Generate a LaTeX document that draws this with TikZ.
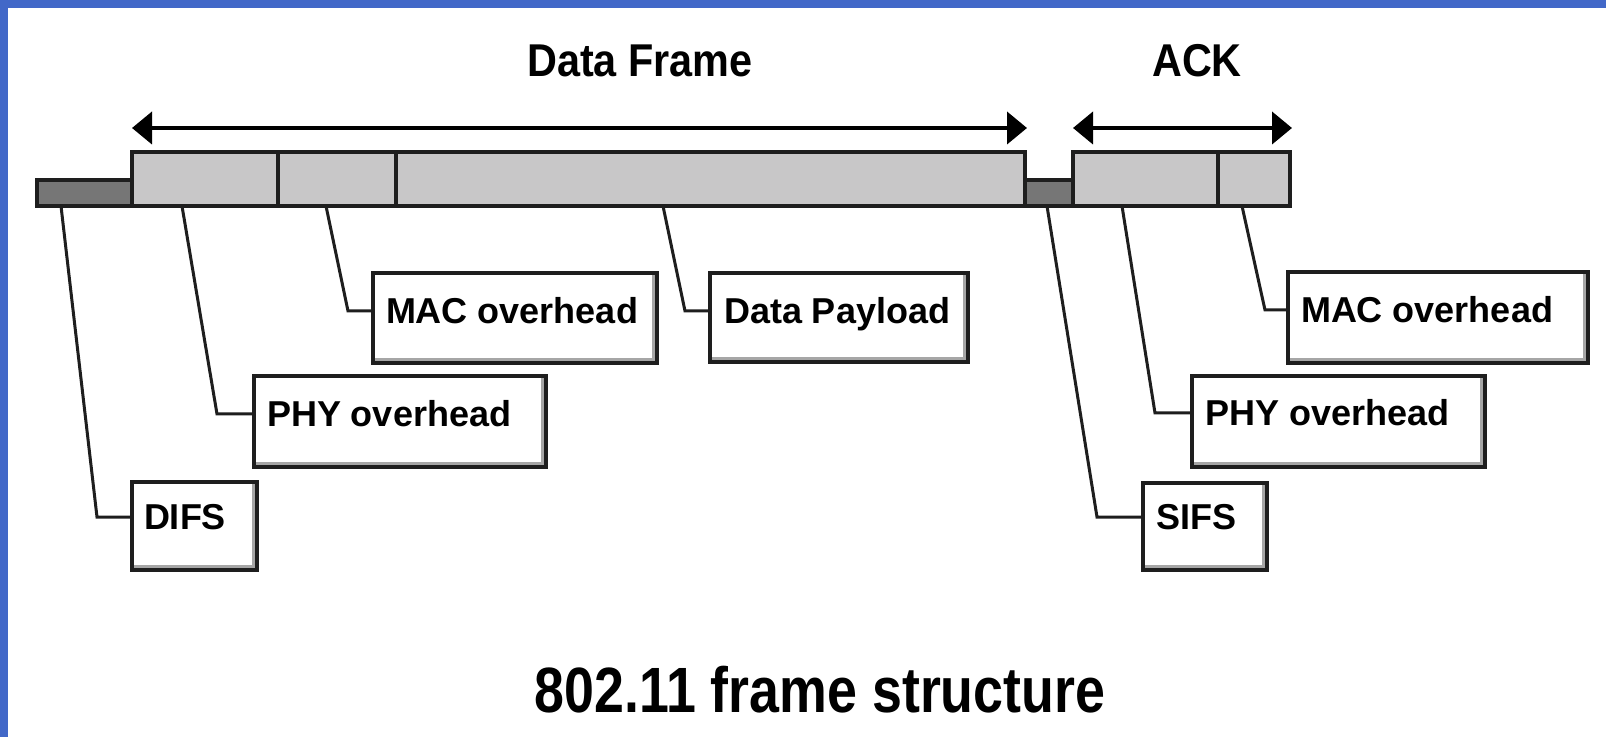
\documentclass[tikz,border=0pt]{standalone}
\usepackage{graphicx}
\usepackage{fontspec}
\setmainfont{Liberation Sans}
\usetikzlibrary{arrows.meta}
\definecolor{bgblue}{RGB}{66,104,200}
\definecolor{segLight}{RGB}{200,199,200}
\definecolor{segDark}{RGB}{118,118,118}
\definecolor{inkc}{RGB}{30,30,30}
\begin{document}
\begin{tikzpicture}[x=0.5pt,y=-0.5pt,
  lightseg/.style={draw=inkc, line width=2pt, fill=segLight, minimum height=27pt, inner sep=0pt, outer sep=0pt, anchor=north west},
  darkseg/.style={draw=inkc, line width=2pt, fill=segDark, minimum height=13pt, inner sep=0pt, outer sep=0pt, anchor=north west},
  lbox/.style={draw=inkc, line width=2pt, fill=white, inner sep=0pt, outer sep=0pt, anchor=north west,
    path picture={\draw[line width=5pt, draw=black!35] (path picture bounding box.south west) -- (path picture bounding box.south east) -- (path picture bounding box.north east);}},
  ltext/.style={anchor=west, inner sep=0pt, outer sep=0pt, text height=12.9pt, text depth=0pt, font=\fontsize{18pt}{20pt}\selectfont\bfseries},
  leader/.style={draw=inkc, line width=1.5pt},
  dimline/.style={draw=black, line width=2pt, {Triangle[length=10pt,width=16pt]}-{Triangle[length=10pt,width=16pt]}},
  ttl/.style={inner sep=0pt, font=\fontsize{23pt}{25pt}\selectfont\bfseries}
]
\useasboundingbox (0,0) rectangle (1606,737);
\fill[white] (0,0) rectangle (1606,737);
\fill[bgblue] (0,0) rectangle (1606,8);
\fill[bgblue] (0,0) rectangle (8,737);

% titles
\node[ttl] (dftitle) at (640,61) {\scalebox{0.9}[1]{Data Frame}};
\node[ttl] (acktitle) at (1197,61) {\scalebox{0.9}[1]{ACK}};
\node[inner sep=0pt, font=\fontsize{32pt}{34pt}\selectfont\bfseries] (maintitle) at (820,690) {\scalebox{0.84}[1]{802.11 frame structure}};

% dimension arrows
\coordinate (dfL) at (132,128);
\coordinate (dfR) at (1027,128);
\coordinate (ackL) at (1073,128);
\coordinate (ackR) at (1292,128);
\draw[dimline] (dfL) -- (dfR);
\draw[dimline] (ackL) -- (ackR);

% frame bar
\node[darkseg, minimum width=47.5pt] (difsbar) at (37,180) {};
\node[lightseg, minimum width=73pt] (phy1seg) at (132,152) {};
\node[lightseg, minimum width=59pt] (mac1seg) at (278,152) {};
\node[lightseg, minimum width=314.5pt] (payseg) at (396,152) {};
\node[darkseg, minimum width=24pt] (sifsbar) at (1025,180) {};
\node[lightseg, minimum width=72.5pt] (phy2seg) at (1073,152) {};
\node[lightseg, minimum width=36pt] (mac2seg) at (1218,152) {};

% label boxes
\node[lbox, minimum width=62.5pt, minimum height=44pt] (difs) at (132,482) {};
\node[ltext] (difst) at (144,517) {DIFS};
\node[lbox, minimum width=146pt, minimum height=45.5pt] (phy1) at (254,376) {};
\node[ltext] (phy1t) at (267,414) {PHY overhead};
\node[lbox, minimum width=142pt, minimum height=45pt] (mac1) at (373,273) {};
\node[ltext] (mac1t) at (386,311) {MAC overhead};
\node[lbox, minimum width=129pt, minimum height=44.5pt] (pay) at (710,273) {};
\node[ltext] (payt) at (724,311) {Data Payload};
\node[lbox, minimum width=62pt, minimum height=43.5pt] (sifs) at (1143,483) {};
\node[ltext] (sifst) at (1156,517) {SIFS};
\node[lbox, minimum width=146.5pt, minimum height=45.5pt] (phy2) at (1192,376) {};
\node[ltext] (phy2t) at (1205,413) {PHY overhead};
\node[lbox, minimum width=150pt, minimum height=45.5pt] (mac2) at (1288,272) {};
\node[ltext] (mac2t) at (1301,310) {MAC overhead};

% leaders
\draw[leader] (difsbar.south -| 61,0) -- (97,0 |- difst.west) -- (difst.west -| difs.west);
\draw[leader] (phy1seg.south -| 182,0) -- (217,0 |- phy1t.west) -- (phy1t.west -| phy1.west);
\draw[leader] (mac1seg.south -| 326,0) -- (348,0 |- mac1t.west) -- (mac1t.west -| mac1.west);
\draw[leader] (payseg.south -| 663,0) -- (685,0 |- payt.west) -- (payt.west -| pay.west);
\draw[leader] (sifsbar.south -| 1047,0) -- (1097,0 |- sifst.west) -- (sifst.west -| sifs.west);
\draw[leader] (phy2seg.south -| 1122,0) -- (1155,0 |- phy2t.west) -- (phy2t.west -| phy2.west);
\draw[leader] (mac2seg.south -| 1242,0) -- (1265,0 |- mac2t.west) -- (mac2t.west -| mac2.west);
\end{tikzpicture}
\end{document}
